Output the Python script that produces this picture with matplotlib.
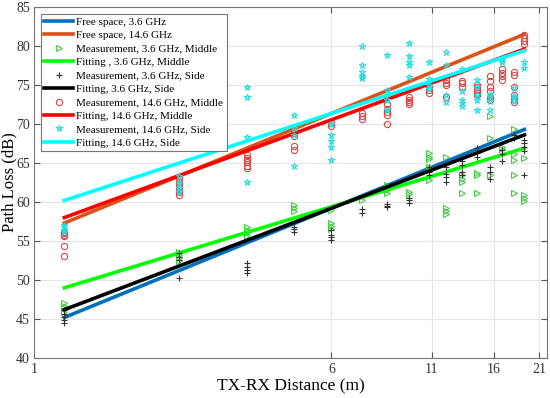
import numpy as np
import matplotlib.pyplot as plt

plt.rcParams['font.family'] = ['Liberation Serif', 'DejaVu Serif']

# measurement distances (m)
dist = [1.2, 2.4, 3.6, 4.8, 6.0, 7.2, 8.4, 9.6, 10.8, 12.0, 13.2, 14.4, 15.6, 16.8, 18.0, 19.2]

# path loss readings (dB), one list per distance
mid_36 = [[47.0, 46.7, 46.4, 45.9], [53.6, 53.2, 52.8, 52.4], [56.8, 56.4, 56.0, 55.6],
          [59.6, 59.2, 58.8], [59.0, 57.3, 56.9, 56.5], [60.3], [62.2, 61.6, 61.1],
          [61.3, 61.0], [66.3, 65.8, 65.5, 64.5, 64.1, 62.8], [65.8, 59.2, 58.8, 58.4],
          [63.4, 62.9, 62.5, 61.1], [63.7, 63.5, 61.1], [71.0, 68.2, 63.5], [67.1, 66.8],
          [69.3, 66.2, 65.4, 63.4, 61.2], [65.6, 60.9, 60.5, 60.1]]
side_36 = [[46.2, 45.7, 45.3, 44.9, 44.5], [53.4, 53.0, 52.6, 50.2], [52.2, 51.7, 51.3, 50.9],
           [56.8, 56.5, 56.2], [56.4, 55.8, 55.5, 55.1], [59.1, 58.6], [59.8, 59.5, 59.3],
           [60.5, 60.2, 59.9], [64.5, 64.1, 63.8, 63.5], [64.5, 63.6, 63.2, 62.6],
           [65.2, 64.8, 63.9, 63.4], [66.9, 66.3, 65.8], [64.5, 63.8, 62.9], [66.6, 66.2, 65.2],
           [68.6, 68.2], [68.0, 67.6, 67.1, 66.5, 63.4]]
mid_146 = [[56.2, 56.0, 55.8, 55.6, 54.3, 53.1], [63.1, 62.6, 62.2, 61.8, 61.3, 60.9],
           [66.0, 65.7, 65.4, 65.1, 64.6, 64.3], [68.8, 68.5, 67.2, 66.6], [70.1, 69.8],
           [71.4, 71.0, 70.7], [72.5, 71.9, 71.5, 71.2, 70.0], [73.4, 73.1, 72.8, 72.6],
           [74.8, 74.4, 74.0], [75.7, 75.3, 75.0, 73.5], [75.5, 75.2, 74.8],
           [75.0, 74.7, 74.4, 74.0, 73.7], [76.1, 75.5, 74.8, 74.2, 73.5, 73.1],
           [77.0, 76.5, 76.1, 75.7], [76.6, 76.3, 74.8, 73.7, 73.2, 72.8], [81.4, 81.0, 80.7, 80.3]]
side_146 = [[57.1, 56.8, 56.4, 56.1], [63.3, 62.4, 61.8, 61.3], [74.7, 73.5, 68.3, 62.6],
            [71.1, 69.5, 68.6, 64.6], [70.0, 68.6, 67.8, 67.0, 65.4], [80.0, 77.6, 76.6, 76.2, 75.9],
            [78.9, 74.3, 73.1, 71.8], [80.4, 78.7, 78.0, 77.5, 76.0], [77.9, 75.8, 75.0, 74.5],
            [79.2, 77.6, 73.7, 72.8], [77.0, 74.2, 73.1, 72.7, 72.3], [75.7, 74.8, 73.7, 73.1, 71.8],
            [73.9, 73.4, 72.9, 71.8], [78.2, 77.9], [74.6, 73.6, 73.3, 73.0], [78.0, 77.2]]

# straight lines on the log axis, end values at first and last distance
line_x = [1.2, 19.2]
fs_36 = [45.2, 69.3]
fs_146 = [57.3, 81.5]
fit_mid_36 = [49.0, 66.9]
fit_side_36 = [46.2, 68.6]
fit_mid_146 = [58.0, 79.6]
fit_side_146 = [60.2, 79.4]


def flat(groups):
    xs, ys = [], []
    for d, vals in zip(dist, groups):
        xs += [d] * len(vals)
        ys += vals
    return xs, ys


fig = plt.figure(figsize=(5.5, 3.98), dpi=100)
ax = fig.add_axes([0.062, 0.1005, 0.9325, 0.882])

lw = 2.6
ax.plot(line_x, fs_36, color='#0072BD', lw=lw, label='Free space, 3.6 GHz')
ax.plot(line_x, fs_146, color='#D95319', lw=lw, label='Free space, 14.6 GHz')
x, y = flat(mid_36)
ax.plot(x, y, ls='none', marker='>', ms=5, mfc='none', mec='#44cc44', mew=0.8,
        label='Measurement, 3.6 GHz, Middle')
ax.plot(line_x, fit_mid_36, color='#00ff00', lw=lw, label='Fitting , 3.6 GHz, Middle')
x, y = flat(side_36)
ax.plot(x, y, ls='none', marker='+', ms=5, mec='#333333', mew=0.8,
        label='Measurement, 3.6 GHz, Side')
ax.plot(line_x, fit_side_36, color='black', lw=lw, label='Fitting, 3.6 GHz, Side')
x, y = flat(mid_146)
ax.plot(x, y, ls='none', marker='o', ms=4.5, mfc='none', mec='#dd4444', mew=0.8,
        label='Measurement, 14.6 GHz, Middle')
ax.plot(line_x, fit_mid_146, color='#ff0000', lw=lw, label='Fitting, 14.6 GHz, Middle')
x, y = flat(side_146)
ax.plot(x, y, ls='none', marker='*', ms=5, mfc='none', mec='#22dddd', mew=0.8,
        label='Measurement, 14.6 GHz, Side')
ax.plot(line_x, fit_side_146, color='#00ffff', lw=lw, label='Fitting, 14.6 GHz, Side')

ax.set_xscale('log')
ax.set_xlim(1, 22)
ax.set_ylim(40, 85)
ax.set_xticks([1, 6, 11, 16, 21])
ax.set_xticklabels(['1', '6', '11', '16', '21'])
ax.xaxis.set_minor_locator(plt.NullLocator())
ax.set_yticks(np.arange(40, 86, 5))
ax.tick_params(direction='in', top=True, right=True, labelsize=10, length=4,
               color='#555555', labelcolor='#333333')
ax.tick_params(axis='y', pad=3)
ax.grid(True, color='#e6e6e6', lw=0.8)
ax.set_axisbelow(True)
for s in ax.spines.values():
    s.set_color('#777777')
    s.set_linewidth(0.8)

ax.set_xlabel('TX-RX Distance (m)', fontsize=12.5, labelpad=2)
ax.set_ylabel('Path Loss (dB)', fontsize=12)
ax.yaxis.set_label_coords(-0.033, 0.5)

leg = ax.legend(loc='upper left', fontsize=8, handlelength=2.6, handletextpad=0.3,
                labelspacing=0.33, borderpad=0.3, borderaxespad=0.6, fancybox=False,
                framealpha=1)
leg.get_frame().set_edgecolor('#777777')
leg.get_frame().set_linewidth(0.8)

fig.savefig('out.png', dpi=100)
